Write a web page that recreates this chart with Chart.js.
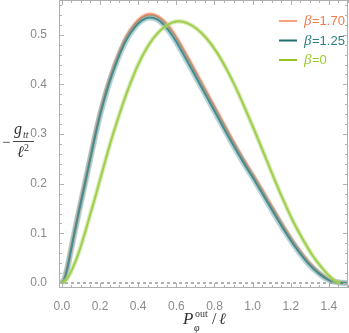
<!DOCTYPE html>
<html>
<head>
<meta charset="utf-8">
<script src="https://cdn.jsdelivr.net/npm/chart.js@4"></script>
<style>
  html, body { margin: 0; padding: 0; background: #fff; }
  canvas { display: block; }
</style>
</head>
<body>
<canvas id="gttChart" width="349" height="333"></canvas>
<script>
// beta = 1.70
const xOrange = [0, 0.015, 0.03, 0.045, 0.065, 0.09, 0.12, 0.15, 0.175, 0.2, 0.225, 0.25, 0.28, 0.31, 0.34, 0.38, 0.42, 0.46, 0.50, 0.54, 0.59, 0.665, 0.735, 0.82, 0.893, 0.96, 1.018, 1.09, 1.164, 1.23, 1.295, 1.35, 1.40, 1.45, 1.5];
const yOrange = [0, 0.01, 0.033, 0.062, 0.1, 0.147, 0.2, 0.255, 0.3, 0.342, 0.378, 0.41, 0.443, 0.472, 0.497, 0.52, 0.535, 0.541, 0.537, 0.525, 0.5, 0.45, 0.40, 0.34, 0.288, 0.243, 0.207, 0.16, 0.112, 0.073, 0.041, 0.02, 0.007, 0.001, 0];
// beta = 1.25
const xTeal = [0, 0.015, 0.03, 0.045, 0.065, 0.09, 0.12, 0.15, 0.175, 0.2, 0.225, 0.25, 0.28, 0.31, 0.34, 0.38, 0.42, 0.46, 0.50, 0.535, 0.585, 0.658, 0.728, 0.812, 0.886, 0.953, 1.011, 1.083, 1.158, 1.225, 1.29, 1.345, 1.40, 1.45, 1.5];
const yTeal = [0, 0.01, 0.032, 0.061, 0.099, 0.145, 0.198, 0.252, 0.297, 0.338, 0.373, 0.405, 0.438, 0.467, 0.491, 0.514, 0.529, 0.535, 0.531, 0.52, 0.495, 0.446, 0.397, 0.338, 0.286, 0.242, 0.206, 0.159, 0.111, 0.072, 0.04, 0.02, 0.006, 0.001, 0];
// beta = 0
const xGreen = [0, 0.03, 0.06, 0.09, 0.12, 0.15, 0.18, 0.21, 0.24, 0.27, 0.30, 0.33, 0.36, 0.40, 0.44, 0.48, 0.52, 0.56, 0.61, 0.66, 0.71, 0.76, 0.81, 0.86, 0.91, 0.96, 1.01, 1.06, 1.11, 1.16, 1.21, 1.26, 1.31, 1.36, 1.40, 1.43, 1.46];
const yGreen = [0, 0.01, 0.033, 0.063, 0.1, 0.14, 0.18, 0.222, 0.263, 0.302, 0.338, 0.372, 0.403, 0.44, 0.47, 0.493, 0.51, 0.521, 0.527, 0.523, 0.511, 0.492, 0.466, 0.433, 0.395, 0.352, 0.307, 0.26, 0.213, 0.168, 0.126, 0.09, 0.058, 0.032, 0.015, 0.005, 0];

const legendNames = ['1.70', '1.25', '0'];
const xTicks = [0, 0.2, 0.4, 0.6, 0.8, 1.0, 1.2, 1.4];
const yTicks = [0, 0.1, 0.2, 0.3, 0.4, 0.5];

function pts(xs, ys) {
  return xs.map((x, i) => ({ x: x, y: ys[i] }));
}

function lineSet(xs, ys, color, width) {
  return {
    data: pts(xs, ys),
    borderColor: color,
    backgroundColor: color,
    borderWidth: width,
    pointRadius: 0,
    cubicInterpolationMode: 'monotone',
    fill: false
  };
}

// draw order: green, teal, orange (orange on top)
const datasets = [
  lineSet(xGreen, yGreen, 'rgba(180,218,120,0.5)', 4.5),
  lineSet(xGreen, yGreen, '#8cc11f', 2),
  lineSet(xTeal, yTeal, 'rgba(110,172,175,0.5)', 6),
  lineSet(xTeal, yTeal, '#1b6d6e', 2),
  lineSet(xOrange, yOrange, 'rgba(250,150,110,0.55)', 4.5),
  lineSet(xOrange, yOrange, '#f05a1e', 2)
];

const framePlugin = {
  id: 'frame',
  beforeDatasetsDraw(chart) {
    const ctx = chart.ctx, y = chart.scales.y;
    // dashed zero line
    ctx.save();
    ctx.strokeStyle = '#8a8a8a';
    ctx.lineWidth = 1.3;
    ctx.setLineDash([3, 3]);
    ctx.beginPath();
    ctx.moveTo(chart.chartArea.left, y.getPixelForValue(0));
    ctx.lineTo(chart.chartArea.right, y.getPixelForValue(0));
    ctx.stroke();
    ctx.restore();
  },
  afterDraw(chart) {
    const ctx = chart.ctx, a = chart.chartArea;
    const x = chart.scales.x, y = chart.scales.y;
    ctx.save();
    ctx.strokeStyle = '#b0b0b0';
    ctx.lineWidth = 1;
    ctx.strokeRect(a.left + 0.5, a.top + 0.5, a.right - a.left - 1, a.bottom - a.top - 1);
    ctx.beginPath();
    for (let i = 0; i <= 30; i++) {
      const v = i * 0.05;
      const px = Math.round(x.getPixelForValue(v)) + 0.5;
      const len = (i % 4 === 0) ? 5 : 3;
      ctx.moveTo(px, a.bottom); ctx.lineTo(px, a.bottom - len);
      ctx.moveTo(px, a.top); ctx.lineTo(px, a.top + len);
    }
    for (let i = 0; i <= 28; i++) {
      const v = i * 0.02;
      const py = Math.round(y.getPixelForValue(v)) + 0.5;
      const len = (i % 5 === 0) ? 5 : 3;
      ctx.moveTo(a.left, py); ctx.lineTo(a.left + len, py);
      ctx.moveTo(a.right, py); ctx.lineTo(a.right - len, py);
    }
    ctx.stroke();

    // legend
    const legCols = ['#f9a07c', '#1f6e70', '#8fc320'];
    const txtCols = ['#f27a48', '#2c7f82', '#9acb2e'];
    legendNames.forEach((name, i) => {
      const ly = 21 + i * 19.5;
      ctx.strokeStyle = legCols[i];
      ctx.lineWidth = 2;
      ctx.beginPath();
      ctx.moveTo(279, ly); ctx.lineTo(297, ly);
      ctx.stroke();
      ctx.fillStyle = txtCols[i];
      ctx.textBaseline = 'middle';
      ctx.font = 'italic 15px "Liberation Serif"';
      ctx.fillText('\u03B2', 304, ly + 0.5);
      const w = ctx.measureText('\u03B2').width;
      ctx.font = '13px "Liberation Sans"';
      ctx.fillText('=' + name, 304 + w + 0.5, ly + 0.5);
    });

    // y title: -g_tt / l^2
    ctx.fillStyle = '#333';
    ctx.strokeStyle = '#333';
    ctx.textBaseline = 'alphabetic';
    ctx.font = '15px "Liberation Serif"';
    ctx.fillText('\u2212', 2, 147);
    ctx.font = 'italic 16px "Liberation Serif"';
    ctx.fillText('g', 14, 134);
    ctx.font = 'italic 10px "Liberation Serif"';
    ctx.fillText('tt', 23, 138);
    ctx.lineWidth = 0.9;
    ctx.beginPath();
    ctx.moveTo(13, 141.5); ctx.lineTo(34, 141.5);
    ctx.stroke();
    ctx.font = 'italic 16px "Liberation Serif"';
    ctx.fillText('\u2113', 17, 157);
    ctx.font = '10px "Liberation Serif"';
    ctx.fillText('2', 24, 151);

    // x title: P_phi^out / l
    ctx.font = 'italic 17px "Liberation Serif"';
    ctx.fillText('P', 183, 324);
    ctx.font = '10px "Liberation Serif"';
    ctx.fillText('out', 195, 317);
    ctx.font = 'italic 10px "Liberation Serif"';
    ctx.fillText('\u03C6', 194, 331);
    ctx.font = '16px "Liberation Serif"';
    ctx.fillText('/', 212, 324);
    ctx.font = 'italic 16px "Liberation Serif"';
    ctx.fillText('\u2113', 219, 324);
    ctx.restore();
  }
};

new Chart(document.getElementById('gttChart'), {
  type: 'line',
  data: { datasets: datasets },
  options: {
    responsive: false,
    animation: false,
    layout: { padding: { left: 0, right: 1, top: 0, bottom: 0 } },
    plugins: { legend: { display: false }, tooltip: { enabled: false } },
    scales: {
      x: {
        type: 'linear',
        min: -0.015,
        max: 1.5,
        afterFit: (s) => { s.height = 45; s.paddingLeft = 0; s.paddingRight = 0; },
        afterBuildTicks: (s) => { s.ticks = xTicks.map(v => ({ value: v })); },
        ticks: {
          padding: 3,
          color: '#8a8a8a',
          font: { family: 'Liberation Sans', size: 12 },
          callback: (v) => v.toFixed(1),
          maxRotation: 0
        },
        grid: { display: false },
        border: { display: false }
      },
      y: {
        type: 'linear',
        min: -0.01,
        max: 0.57,
        afterFit: (s) => { s.width = 59; s.paddingTop = 0; s.paddingBottom = 0; },
        afterBuildTicks: (s) => { s.ticks = yTicks.map(v => ({ value: v })); },
        ticks: {
          padding: 4,
          color: '#8a8a8a',
          font: { family: 'Liberation Sans', size: 12 },
          callback: (v) => v.toFixed(1)
        },
        grid: { display: false },
        border: { display: false }
      }
    }
  },
  plugins: [framePlugin]
});
</script>
</body>
</html>
